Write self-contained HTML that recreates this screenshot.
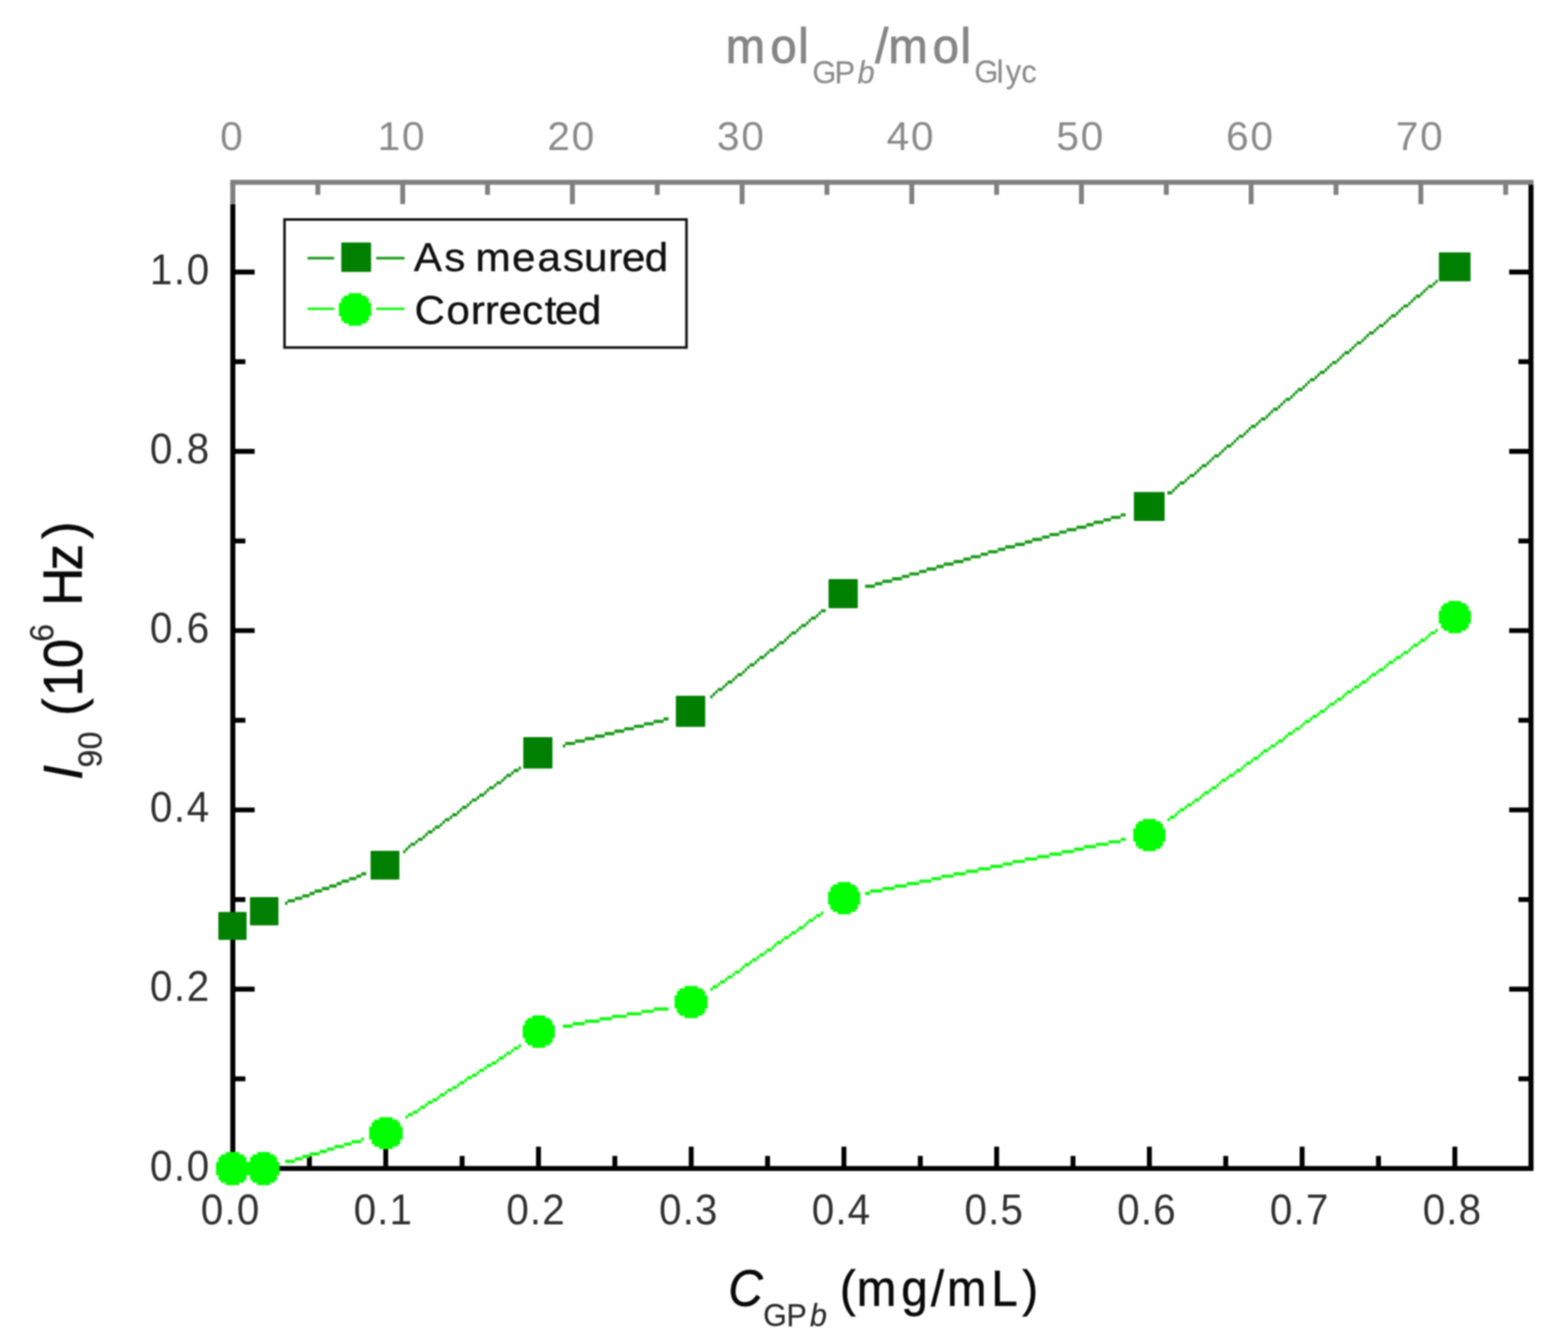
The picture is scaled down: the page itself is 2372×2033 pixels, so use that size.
<!DOCTYPE html>
<html lang="en">
<head>
<meta charset="utf-8">
<title>I90 versus GPb concentration</title>
<style>
html,body{margin:0;padding:0;background:#ffffff;}
body{width:2372px;height:2033px;overflow:hidden;}
svg{display:block;font-family:"Liberation Sans", sans-serif;}
</style>
</head>
<body>
<svg role="img" aria-label="Scattering intensity versus GPb concentration" width="2372" height="2033" viewBox="0 0 2372 2033">
<rect x="0" y="0" width="2372" height="2033" fill="#ffffff"/>
<defs><filter id="soft" x="-5%" y="-5%" width="110%" height="110%" color-interpolation-filters="sRGB"><feGaussianBlur stdDeviation="1.1"/></filter><filter id="crisp" x="-5%" y="-5%" width="110%" height="110%" color-interpolation-filters="sRGB"><feGaussianBlur stdDeviation="0.8"/></filter></defs>
<g id="chart">
<g id="axes" filter="url(#crisp)">
<line x1="348.4" y1="1767.5" x2="2319.8" y2="1767.5" stroke="#000000" stroke-width="7.6" stroke-linecap="butt"/>
<line x1="352.2" y1="308.7" x2="352.2" y2="1767.5" stroke="#000000" stroke-width="7.6" stroke-linecap="butt"/>
<line x1="2316" y1="279" x2="2316" y2="1767.5" stroke="#000000" stroke-width="7.6" stroke-linecap="butt"/>
<line x1="348.4" y1="275.7" x2="2319.8" y2="275.7" stroke="#808080" stroke-width="7.6" stroke-linecap="butt"/>
<line x1="352.2" y1="275.7" x2="352.2" y2="308.7" stroke="#808080" stroke-width="7.6" stroke-linecap="butt"/>
<line x1="468.02" y1="1767.5" x2="468.02" y2="1748.5" stroke="#000000" stroke-width="7.4" stroke-linecap="butt"/>
<line x1="583.54" y1="1767.5" x2="583.54" y2="1734.5" stroke="#000000" stroke-width="7.4" stroke-linecap="butt"/>
<line x1="699.06" y1="1767.5" x2="699.06" y2="1748.5" stroke="#000000" stroke-width="7.4" stroke-linecap="butt"/>
<line x1="814.58" y1="1767.5" x2="814.58" y2="1734.5" stroke="#000000" stroke-width="7.4" stroke-linecap="butt"/>
<line x1="930.1" y1="1767.5" x2="930.1" y2="1748.5" stroke="#000000" stroke-width="7.4" stroke-linecap="butt"/>
<line x1="1045.62" y1="1767.5" x2="1045.62" y2="1734.5" stroke="#000000" stroke-width="7.4" stroke-linecap="butt"/>
<line x1="1161.14" y1="1767.5" x2="1161.14" y2="1748.5" stroke="#000000" stroke-width="7.4" stroke-linecap="butt"/>
<line x1="1276.66" y1="1767.5" x2="1276.66" y2="1734.5" stroke="#000000" stroke-width="7.4" stroke-linecap="butt"/>
<line x1="1392.18" y1="1767.5" x2="1392.18" y2="1748.5" stroke="#000000" stroke-width="7.4" stroke-linecap="butt"/>
<line x1="1507.7" y1="1767.5" x2="1507.7" y2="1734.5" stroke="#000000" stroke-width="7.4" stroke-linecap="butt"/>
<line x1="1623.22" y1="1767.5" x2="1623.22" y2="1748.5" stroke="#000000" stroke-width="7.4" stroke-linecap="butt"/>
<line x1="1738.74" y1="1767.5" x2="1738.74" y2="1734.5" stroke="#000000" stroke-width="7.4" stroke-linecap="butt"/>
<line x1="1854.26" y1="1767.5" x2="1854.26" y2="1748.5" stroke="#000000" stroke-width="7.4" stroke-linecap="butt"/>
<line x1="1969.78" y1="1767.5" x2="1969.78" y2="1734.5" stroke="#000000" stroke-width="7.4" stroke-linecap="butt"/>
<line x1="2085.3" y1="1767.5" x2="2085.3" y2="1748.5" stroke="#000000" stroke-width="7.4" stroke-linecap="butt"/>
<line x1="2200.82" y1="1767.5" x2="2200.82" y2="1734.5" stroke="#000000" stroke-width="7.4" stroke-linecap="butt"/>
<line x1="480.85" y1="275.7" x2="480.85" y2="294.7" stroke="#808080" stroke-width="7.4" stroke-linecap="butt"/>
<line x1="609.2" y1="275.7" x2="609.2" y2="308.7" stroke="#808080" stroke-width="7.4" stroke-linecap="butt"/>
<line x1="737.55" y1="275.7" x2="737.55" y2="294.7" stroke="#808080" stroke-width="7.4" stroke-linecap="butt"/>
<line x1="865.9" y1="275.7" x2="865.9" y2="308.7" stroke="#808080" stroke-width="7.4" stroke-linecap="butt"/>
<line x1="994.25" y1="275.7" x2="994.25" y2="294.7" stroke="#808080" stroke-width="7.4" stroke-linecap="butt"/>
<line x1="1122.6" y1="275.7" x2="1122.6" y2="308.7" stroke="#808080" stroke-width="7.4" stroke-linecap="butt"/>
<line x1="1250.95" y1="275.7" x2="1250.95" y2="294.7" stroke="#808080" stroke-width="7.4" stroke-linecap="butt"/>
<line x1="1379.3" y1="275.7" x2="1379.3" y2="308.7" stroke="#808080" stroke-width="7.4" stroke-linecap="butt"/>
<line x1="1507.65" y1="275.7" x2="1507.65" y2="294.7" stroke="#808080" stroke-width="7.4" stroke-linecap="butt"/>
<line x1="1636" y1="275.7" x2="1636" y2="308.7" stroke="#808080" stroke-width="7.4" stroke-linecap="butt"/>
<line x1="1764.35" y1="275.7" x2="1764.35" y2="294.7" stroke="#808080" stroke-width="7.4" stroke-linecap="butt"/>
<line x1="1892.7" y1="275.7" x2="1892.7" y2="308.7" stroke="#808080" stroke-width="7.4" stroke-linecap="butt"/>
<line x1="2021.05" y1="275.7" x2="2021.05" y2="294.7" stroke="#808080" stroke-width="7.4" stroke-linecap="butt"/>
<line x1="2149.4" y1="275.7" x2="2149.4" y2="308.7" stroke="#808080" stroke-width="7.4" stroke-linecap="butt"/>
<line x1="2277.75" y1="275.7" x2="2277.75" y2="294.7" stroke="#808080" stroke-width="7.4" stroke-linecap="butt"/>
<line x1="352.2" y1="1631.9" x2="371.2" y2="1631.9" stroke="#000000" stroke-width="7.4" stroke-linecap="butt"/>
<line x1="2316" y1="1631.9" x2="2297" y2="1631.9" stroke="#000000" stroke-width="7.4" stroke-linecap="butt"/>
<line x1="352.2" y1="1496.3" x2="385.2" y2="1496.3" stroke="#000000" stroke-width="7.4" stroke-linecap="butt"/>
<line x1="2316" y1="1496.3" x2="2283" y2="1496.3" stroke="#000000" stroke-width="7.4" stroke-linecap="butt"/>
<line x1="352.2" y1="1360.7" x2="371.2" y2="1360.7" stroke="#000000" stroke-width="7.4" stroke-linecap="butt"/>
<line x1="2316" y1="1360.7" x2="2297" y2="1360.7" stroke="#000000" stroke-width="7.4" stroke-linecap="butt"/>
<line x1="352.2" y1="1225.1" x2="385.2" y2="1225.1" stroke="#000000" stroke-width="7.4" stroke-linecap="butt"/>
<line x1="2316" y1="1225.1" x2="2283" y2="1225.1" stroke="#000000" stroke-width="7.4" stroke-linecap="butt"/>
<line x1="352.2" y1="1089.5" x2="371.2" y2="1089.5" stroke="#000000" stroke-width="7.4" stroke-linecap="butt"/>
<line x1="2316" y1="1089.5" x2="2297" y2="1089.5" stroke="#000000" stroke-width="7.4" stroke-linecap="butt"/>
<line x1="352.2" y1="953.9" x2="385.2" y2="953.9" stroke="#000000" stroke-width="7.4" stroke-linecap="butt"/>
<line x1="2316" y1="953.9" x2="2283" y2="953.9" stroke="#000000" stroke-width="7.4" stroke-linecap="butt"/>
<line x1="352.2" y1="818.3" x2="371.2" y2="818.3" stroke="#000000" stroke-width="7.4" stroke-linecap="butt"/>
<line x1="2316" y1="818.3" x2="2297" y2="818.3" stroke="#000000" stroke-width="7.4" stroke-linecap="butt"/>
<line x1="352.2" y1="682.7" x2="385.2" y2="682.7" stroke="#000000" stroke-width="7.4" stroke-linecap="butt"/>
<line x1="2316" y1="682.7" x2="2283" y2="682.7" stroke="#000000" stroke-width="7.4" stroke-linecap="butt"/>
<line x1="352.2" y1="547.1" x2="371.2" y2="547.1" stroke="#000000" stroke-width="7.4" stroke-linecap="butt"/>
<line x1="2316" y1="547.1" x2="2297" y2="547.1" stroke="#000000" stroke-width="7.4" stroke-linecap="butt"/>
<line x1="352.2" y1="411.5" x2="385.2" y2="411.5" stroke="#000000" stroke-width="7.4" stroke-linecap="butt"/>
<line x1="2316" y1="411.5" x2="2283" y2="411.5" stroke="#000000" stroke-width="7.4" stroke-linecap="butt"/>
</g>
<g id="ticklabels" filter="url(#soft)">
<text transform="translate(351.3 227.3)" font-size="61.5" fill="#8a8a8a" letter-spacing="2.6" text-anchor="middle">0</text>
<text transform="translate(608 227.3)" font-size="61.5" fill="#8a8a8a" letter-spacing="2.6" text-anchor="middle">10</text>
<text transform="translate(864.7 227.3)" font-size="61.5" fill="#8a8a8a" letter-spacing="2.6" text-anchor="middle">20</text>
<text transform="translate(1121.4 227.3)" font-size="61.5" fill="#8a8a8a" letter-spacing="2.6" text-anchor="middle">30</text>
<text transform="translate(1378.1 227.3)" font-size="61.5" fill="#8a8a8a" letter-spacing="2.6" text-anchor="middle">40</text>
<text transform="translate(1634.8 227.3)" font-size="61.5" fill="#8a8a8a" letter-spacing="2.6" text-anchor="middle">50</text>
<text transform="translate(1891.5 227.3)" font-size="61.5" fill="#8a8a8a" letter-spacing="2.6" text-anchor="middle">60</text>
<text transform="translate(2148.2 227.3)" font-size="61.5" fill="#8a8a8a" letter-spacing="2.6" text-anchor="middle">70</text>
<text transform="translate(348.85 1851.5) scale(0.94 1)" font-size="65" fill="#303030" letter-spacing="1.8" text-anchor="middle">0.0</text>
<text transform="translate(579.89 1851.5) scale(0.94 1)" font-size="65" fill="#303030" letter-spacing="1.8" text-anchor="middle">0.1</text>
<text transform="translate(810.93 1851.5) scale(0.94 1)" font-size="65" fill="#303030" letter-spacing="1.8" text-anchor="middle">0.2</text>
<text transform="translate(1041.97 1851.5) scale(0.94 1)" font-size="65" fill="#303030" letter-spacing="1.8" text-anchor="middle">0.3</text>
<text transform="translate(1273.01 1851.5) scale(0.94 1)" font-size="65" fill="#303030" letter-spacing="1.8" text-anchor="middle">0.4</text>
<text transform="translate(1504.05 1851.5) scale(0.94 1)" font-size="65" fill="#303030" letter-spacing="1.8" text-anchor="middle">0.5</text>
<text transform="translate(1735.09 1851.5) scale(0.94 1)" font-size="65" fill="#303030" letter-spacing="1.8" text-anchor="middle">0.6</text>
<text transform="translate(1966.13 1851.5) scale(0.94 1)" font-size="65" fill="#303030" letter-spacing="1.8" text-anchor="middle">0.7</text>
<text transform="translate(2197.17 1851.5) scale(0.94 1)" font-size="65" fill="#303030" letter-spacing="1.8" text-anchor="middle">0.8</text>
<text transform="translate(318.94 1785.5) scale(0.94 1)" font-size="65" fill="#303030" letter-spacing="2.6" text-anchor="end">0.0</text>
<text transform="translate(318.94 1514.3) scale(0.94 1)" font-size="65" fill="#303030" letter-spacing="2.6" text-anchor="end">0.2</text>
<text transform="translate(318.94 1243.1) scale(0.94 1)" font-size="65" fill="#303030" letter-spacing="2.6" text-anchor="end">0.4</text>
<text transform="translate(318.94 971.9) scale(0.94 1)" font-size="65" fill="#303030" letter-spacing="2.6" text-anchor="end">0.6</text>
<text transform="translate(318.94 700.7) scale(0.94 1)" font-size="65" fill="#303030" letter-spacing="2.6" text-anchor="end">0.8</text>
<text transform="translate(318.94 429.5) scale(0.94 1)" font-size="65" fill="#303030" letter-spacing="2.6" text-anchor="end">1.0</text>
</g>
<g id="series-as-measured" filter="url(#crisp)">
<path d="M431.27 1363.87h3.72v4.9h-3.72zM434.99 1360.15h11.15v4.9h-11.15zM446.14 1356.43h11.15v4.9h-11.15zM457.3 1352.71h11.15v4.9h-11.15zM468.45 1349h7.44v4.9h-7.44zM475.89 1345.28h11.15v4.9h-11.15zM487.04 1341.56h11.15v4.9h-11.15zM498.19 1337.84h11.15v4.9h-11.15zM509.35 1334.12h7.44v4.9h-7.44zM516.78 1330.41h11.15v4.9h-11.15zM527.94 1326.69h11.15v4.9h-11.15zM539.09 1322.97h7.44v4.9h-7.44zM546.53 1319.25h7.44v4.9h-7.44zM609.73 1285.79h3.72v4.9h-3.72zM613.45 1282.07h3.72v4.9h-3.72zM617.17 1278.36h3.72v4.9h-3.72zM620.88 1274.64h7.44v4.9h-7.44zM628.32 1270.92h3.72v4.9h-3.72zM632.04 1267.2h7.44v4.9h-7.44zM639.47 1263.48h3.72v4.9h-3.72zM643.19 1259.77h3.72v4.9h-3.72zM646.91 1256.05h7.44v4.9h-7.44zM654.34 1252.33h3.72v4.9h-3.72zM658.06 1248.61h7.44v4.9h-7.44zM665.5 1244.89h3.72v4.9h-3.72zM669.22 1241.18h3.72v4.9h-3.72zM672.93 1237.46h7.44v4.9h-7.44zM680.37 1233.74h3.72v4.9h-3.72zM684.09 1230.02h7.44v4.9h-7.44zM691.52 1226.31h3.72v4.9h-3.72zM695.24 1222.59h3.72v4.9h-3.72zM698.96 1218.87h7.44v4.9h-7.44zM706.39 1215.15h3.72v4.9h-3.72zM710.11 1211.43h3.72v4.9h-3.72zM713.83 1207.72h7.44v4.9h-7.44zM721.27 1204h3.72v4.9h-3.72zM724.98 1200.28h7.44v4.9h-7.44zM732.42 1196.56h3.72v4.9h-3.72zM736.14 1192.84h3.72v4.9h-3.72zM739.86 1189.13h7.44v4.9h-7.44zM747.29 1185.41h3.72v4.9h-3.72zM751.01 1181.69h7.44v4.9h-7.44zM758.45 1177.97h3.72v4.9h-3.72zM762.16 1174.26h3.72v4.9h-3.72zM765.88 1170.54h7.44v4.9h-7.44zM773.32 1166.82h3.72v4.9h-3.72zM777.03 1163.1h7.44v4.9h-7.44zM784.47 1159.38h3.72v4.9h-3.72zM851.39 1125.92h3.72v4.9h-3.72zM855.11 1122.21h14.87v4.9h-14.87zM869.98 1118.49h14.87v4.9h-14.87zM884.85 1114.77h14.87v4.9h-14.87zM899.72 1111.05h14.87v4.9h-14.87zM914.6 1107.33h14.87v4.9h-14.87zM929.47 1103.62h14.87v4.9h-14.87zM944.34 1099.9h14.87v4.9h-14.87zM959.21 1096.18h14.87v4.9h-14.87zM974.08 1092.46h14.87v4.9h-14.87zM988.95 1088.74h14.87v4.9h-14.87zM1003.82 1085.03h7.44v4.9h-7.44zM1074.46 1051.57h3.72v4.9h-3.72zM1078.18 1047.85h3.72v4.9h-3.72zM1081.9 1044.13h3.72v4.9h-3.72zM1085.62 1040.41h7.44v4.9h-7.44zM1093.05 1036.69h3.72v4.9h-3.72zM1096.77 1032.98h3.72v4.9h-3.72zM1100.49 1029.26h7.44v4.9h-7.44zM1107.92 1025.54h3.72v4.9h-3.72zM1111.64 1021.82h3.72v4.9h-3.72zM1115.36 1018.1h7.44v4.9h-7.44zM1122.8 1014.39h3.72v4.9h-3.72zM1126.51 1010.67h3.72v4.9h-3.72zM1130.23 1006.95h3.72v4.9h-3.72zM1133.95 1003.23h7.44v4.9h-7.44zM1141.39 999.52h3.72v4.9h-3.72zM1145.1 995.8h3.72v4.9h-3.72zM1148.82 992.08h7.44v4.9h-7.44zM1156.26 988.36h3.72v4.9h-3.72zM1159.97 984.64h3.72v4.9h-3.72zM1163.69 980.93h7.44v4.9h-7.44zM1171.13 977.21h3.72v4.9h-3.72zM1174.85 973.49h3.72v4.9h-3.72zM1178.56 969.77h7.44v4.9h-7.44zM1186 966.05h3.72v4.9h-3.72zM1189.72 962.34h3.72v4.9h-3.72zM1193.44 958.62h3.72v4.9h-3.72zM1197.15 954.9h7.44v4.9h-7.44zM1204.59 951.18h3.72v4.9h-3.72zM1208.31 947.47h3.72v4.9h-3.72zM1212.03 943.75h7.44v4.9h-7.44zM1219.46 940.03h3.72v4.9h-3.72zM1223.18 936.31h3.72v4.9h-3.72zM1226.9 932.59h7.44v4.9h-7.44zM1234.33 928.88h3.72v4.9h-3.72zM1238.05 925.16h3.72v4.9h-3.72zM1241.77 921.44h7.44v4.9h-7.44zM1308.69 884.26h14.87v4.9h-14.87zM1323.56 880.54h11.15v4.9h-11.15zM1334.71 876.83h14.87v4.9h-14.87zM1349.59 873.11h14.87v4.9h-14.87zM1364.46 869.39h11.15v4.9h-11.15zM1375.61 865.67h14.87v4.9h-14.87zM1390.48 861.95h11.15v4.9h-11.15zM1401.64 858.24h14.87v4.9h-14.87zM1416.51 854.52h11.15v4.9h-11.15zM1427.66 850.8h14.87v4.9h-14.87zM1442.53 847.08h14.87v4.9h-14.87zM1457.4 843.37h11.15v4.9h-11.15zM1468.56 839.65h14.87v4.9h-14.87zM1483.43 835.93h11.15v4.9h-11.15zM1494.58 832.21h14.87v4.9h-14.87zM1509.45 828.49h11.15v4.9h-11.15zM1520.61 824.78h14.87v4.9h-14.87zM1535.48 821.06h14.87v4.9h-14.87zM1550.35 817.34h11.15v4.9h-11.15zM1561.5 813.62h14.87v4.9h-14.87zM1576.38 809.9h11.15v4.9h-11.15zM1587.53 806.19h14.87v4.9h-14.87zM1602.4 802.47h11.15v4.9h-11.15zM1613.55 798.75h14.87v4.9h-14.87zM1628.43 795.03h14.87v4.9h-14.87zM1643.3 791.31h11.15v4.9h-11.15zM1654.45 787.6h14.87v4.9h-14.87zM1669.32 783.88h11.15v4.9h-11.15zM1680.48 780.16h14.87v4.9h-14.87zM1695.35 776.44h7.44v4.9h-7.44zM1765.99 742.98h7.44v4.9h-7.44zM1773.42 739.26h3.72v4.9h-3.72zM1777.14 735.55h3.72v4.9h-3.72zM1780.86 731.83h3.72v4.9h-3.72zM1784.58 728.11h7.44v4.9h-7.44zM1792.01 724.39h3.72v4.9h-3.72zM1795.73 720.68h3.72v4.9h-3.72zM1799.45 716.96h7.44v4.9h-7.44zM1806.88 713.24h3.72v4.9h-3.72zM1810.6 709.52h3.72v4.9h-3.72zM1814.32 705.8h3.72v4.9h-3.72zM1818.04 702.09h7.44v4.9h-7.44zM1825.47 698.37h3.72v4.9h-3.72zM1829.19 694.65h3.72v4.9h-3.72zM1832.91 690.93h3.72v4.9h-3.72zM1836.63 687.21h7.44v4.9h-7.44zM1844.06 683.5h3.72v4.9h-3.72zM1847.78 679.78h3.72v4.9h-3.72zM1851.5 676.06h3.72v4.9h-3.72zM1855.22 672.34h7.44v4.9h-7.44zM1862.65 668.63h3.72v4.9h-3.72zM1866.37 664.91h3.72v4.9h-3.72zM1870.09 661.19h3.72v4.9h-3.72zM1873.81 657.47h7.44v4.9h-7.44zM1881.24 653.75h3.72v4.9h-3.72zM1884.96 650.04h3.72v4.9h-3.72zM1888.68 646.32h3.72v4.9h-3.72zM1892.39 642.6h7.44v4.9h-7.44zM1899.83 638.88h3.72v4.9h-3.72zM1903.55 635.16h3.72v4.9h-3.72zM1907.27 631.45h7.44v4.9h-7.44zM1914.7 627.73h3.72v4.9h-3.72zM1918.42 624.01h3.72v4.9h-3.72zM1922.14 620.29h3.72v4.9h-3.72zM1925.86 616.58h7.44v4.9h-7.44zM1933.29 612.86h3.72v4.9h-3.72zM1937.01 609.14h3.72v4.9h-3.72zM1940.73 605.42h3.72v4.9h-3.72zM1944.45 601.7h7.44v4.9h-7.44zM1951.88 597.99h3.72v4.9h-3.72zM1955.6 594.27h3.72v4.9h-3.72zM1959.32 590.55h3.72v4.9h-3.72zM1963.03 586.83h7.44v4.9h-7.44zM1970.47 583.11h3.72v4.9h-3.72zM1974.19 579.4h3.72v4.9h-3.72zM1977.91 575.68h3.72v4.9h-3.72zM1981.62 571.96h7.44v4.9h-7.44zM1989.06 568.24h3.72v4.9h-3.72zM1992.78 564.52h3.72v4.9h-3.72zM1996.5 560.81h7.44v4.9h-7.44zM2003.93 557.09h3.72v4.9h-3.72zM2007.65 553.37h3.72v4.9h-3.72zM2011.37 549.65h3.72v4.9h-3.72zM2015.08 545.94h7.44v4.9h-7.44zM2022.52 542.22h3.72v4.9h-3.72zM2026.24 538.5h3.72v4.9h-3.72zM2029.96 534.78h3.72v4.9h-3.72zM2033.67 531.06h7.44v4.9h-7.44zM2041.11 527.35h3.72v4.9h-3.72zM2044.83 523.63h3.72v4.9h-3.72zM2048.55 519.91h3.72v4.9h-3.72zM2052.26 516.19h7.44v4.9h-7.44zM2059.7 512.47h3.72v4.9h-3.72zM2063.42 508.76h3.72v4.9h-3.72zM2067.13 505.04h3.72v4.9h-3.72zM2070.85 501.32h7.44v4.9h-7.44zM2078.29 497.6h3.72v4.9h-3.72zM2082.01 493.89h3.72v4.9h-3.72zM2085.72 490.17h7.44v4.9h-7.44zM2093.16 486.45h3.72v4.9h-3.72zM2096.88 482.73h3.72v4.9h-3.72zM2100.6 479.01h3.72v4.9h-3.72zM2104.31 475.3h7.44v4.9h-7.44zM2111.75 471.58h3.72v4.9h-3.72zM2115.47 467.86h3.72v4.9h-3.72zM2119.18 464.14h3.72v4.9h-3.72zM2122.9 460.42h7.44v4.9h-7.44zM2130.34 456.71h3.72v4.9h-3.72zM2134.06 452.99h3.72v4.9h-3.72zM2137.77 449.27h3.72v4.9h-3.72zM2141.49 445.55h7.44v4.9h-7.44zM2148.93 441.84h3.72v4.9h-3.72zM2152.65 438.12h3.72v4.9h-3.72zM2156.36 434.4h3.72v4.9h-3.72zM2160.08 430.68h7.44v4.9h-7.44zM2167.52 426.96h3.72v4.9h-3.72zM2171.24 423.25h3.72v4.9h-3.72z" fill="#1f9c1f"/>
<rect x="330.3" y="1379.4" width="42.7" height="42.4" rx="1" fill="#008000"/>
<rect x="378.2" y="1357" width="43" height="42.8" rx="1" fill="#008000"/>
<rect x="560.6" y="1287.1" width="43.6" height="43.5" rx="1" fill="#008000"/>
<rect x="791.6" y="1114.9" width="44.1" height="47.5" rx="1" fill="#008000"/>
<rect x="1022.4" y="1052.4" width="44.4" height="47.2" rx="1" fill="#008000"/>
<rect x="1253.4" y="876.1" width="44.2" height="43.8" rx="1" fill="#008000"/>
<rect x="1715.3" y="744.3" width="46.5" height="43.8" rx="1" fill="#008000"/>
<rect x="2176.7" y="381.8" width="47.9" height="43.8" rx="1" fill="#008000"/>
</g>
<g id="series-corrected" filter="url(#crisp)">
<path d="M431.27 1754.24h14.87v4.9h-14.87zM446.14 1750.52h11.15v4.9h-11.15zM457.3 1746.81h11.15v4.9h-11.15zM468.45 1743.09h14.87v4.9h-14.87zM483.32 1739.37h11.15v4.9h-11.15zM494.48 1735.65h11.15v4.9h-11.15zM505.63 1731.94h14.87v4.9h-14.87zM520.5 1728.22h11.15v4.9h-11.15zM531.66 1724.5h14.87v4.9h-14.87zM546.53 1720.78h3.72v4.9h-3.72zM613.45 1687.32h3.72v4.9h-3.72zM617.17 1683.6h7.44v4.9h-7.44zM624.6 1679.89h7.44v4.9h-7.44zM632.04 1676.17h3.72v4.9h-3.72zM635.76 1672.45h7.44v4.9h-7.44zM643.19 1668.73h3.72v4.9h-3.72zM646.91 1665.01h7.44v4.9h-7.44zM654.34 1661.3h7.44v4.9h-7.44zM661.78 1657.58h3.72v4.9h-3.72zM665.5 1653.86h7.44v4.9h-7.44zM672.93 1650.14h3.72v4.9h-3.72zM676.65 1646.42h7.44v4.9h-7.44zM684.09 1642.71h7.44v4.9h-7.44zM691.52 1638.99h3.72v4.9h-3.72zM695.24 1635.27h7.44v4.9h-7.44zM702.68 1631.55h3.72v4.9h-3.72zM706.39 1627.84h7.44v4.9h-7.44zM713.83 1624.12h7.44v4.9h-7.44zM721.27 1620.4h3.72v4.9h-3.72zM724.98 1616.68h7.44v4.9h-7.44zM732.42 1612.96h3.72v4.9h-3.72zM736.14 1609.25h7.44v4.9h-7.44zM743.57 1605.53h7.44v4.9h-7.44zM751.01 1601.81h3.72v4.9h-3.72zM754.73 1598.09h7.44v4.9h-7.44zM762.16 1594.37h3.72v4.9h-3.72zM765.88 1590.66h7.44v4.9h-7.44zM773.32 1586.94h3.72v4.9h-3.72zM777.03 1583.22h7.44v4.9h-7.44zM784.47 1579.5h3.72v4.9h-3.72zM851.39 1549.76h14.87v4.9h-14.87zM866.26 1546.04h18.59v4.9h-18.59zM884.85 1542.32h22.31v4.9h-22.31zM907.16 1538.61h18.59v4.9h-18.59zM925.75 1534.89h22.31v4.9h-22.31zM948.06 1531.17h22.31v4.9h-22.31zM970.36 1527.45h18.59v4.9h-18.59zM988.95 1523.73h22.31v4.9h-22.31zM1074.46 1493.99h3.72v4.9h-3.72zM1078.18 1490.27h7.44v4.9h-7.44zM1085.62 1486.56h3.72v4.9h-3.72zM1089.34 1482.84h7.44v4.9h-7.44zM1096.77 1479.12h3.72v4.9h-3.72zM1100.49 1475.4h7.44v4.9h-7.44zM1107.92 1471.68h3.72v4.9h-3.72zM1111.64 1467.97h7.44v4.9h-7.44zM1119.08 1464.25h3.72v4.9h-3.72zM1122.8 1460.53h3.72v4.9h-3.72zM1126.51 1456.81h7.44v4.9h-7.44zM1133.95 1453.1h3.72v4.9h-3.72zM1137.67 1449.38h7.44v4.9h-7.44zM1145.1 1445.66h3.72v4.9h-3.72zM1148.82 1441.94h7.44v4.9h-7.44zM1156.26 1438.22h3.72v4.9h-3.72zM1159.97 1434.51h7.44v4.9h-7.44zM1167.41 1430.79h3.72v4.9h-3.72zM1171.13 1427.07h3.72v4.9h-3.72zM1174.85 1423.35h7.44v4.9h-7.44zM1182.28 1419.63h3.72v4.9h-3.72zM1186 1415.92h7.44v4.9h-7.44zM1193.44 1412.2h3.72v4.9h-3.72zM1197.15 1408.48h7.44v4.9h-7.44zM1204.59 1404.76h3.72v4.9h-3.72zM1208.31 1401.05h7.44v4.9h-7.44zM1215.74 1397.33h3.72v4.9h-3.72zM1219.46 1393.61h3.72v4.9h-3.72zM1223.18 1389.89h7.44v4.9h-7.44zM1230.61 1386.17h3.72v4.9h-3.72zM1234.33 1382.46h7.44v4.9h-7.44zM1241.77 1378.74h3.72v4.9h-3.72zM1308.69 1349h7.44v4.9h-7.44zM1316.13 1345.28h18.59v4.9h-18.59zM1334.71 1341.56h18.59v4.9h-18.59zM1353.3 1337.84h18.59v4.9h-18.59zM1371.89 1334.12h18.59v4.9h-18.59zM1390.48 1330.41h18.59v4.9h-18.59zM1409.07 1326.69h14.87v4.9h-14.87zM1423.94 1322.97h18.59v4.9h-18.59zM1442.53 1319.25h18.59v4.9h-18.59zM1461.12 1315.53h18.59v4.9h-18.59zM1479.71 1311.82h18.59v4.9h-18.59zM1498.3 1308.1h18.59v4.9h-18.59zM1516.89 1304.38h14.87v4.9h-14.87zM1531.76 1300.66h18.59v4.9h-18.59zM1550.35 1296.94h18.59v4.9h-18.59zM1568.94 1293.23h18.59v4.9h-18.59zM1587.53 1289.51h18.59v4.9h-18.59zM1606.12 1285.79h18.59v4.9h-18.59zM1624.71 1282.07h14.87v4.9h-14.87zM1639.58 1278.36h18.59v4.9h-18.59zM1658.17 1274.64h18.59v4.9h-18.59zM1676.76 1270.92h18.59v4.9h-18.59zM1695.35 1267.2h7.44v4.9h-7.44zM1765.99 1237.46h3.72v4.9h-3.72zM1769.71 1233.74h7.44v4.9h-7.44zM1777.14 1230.02h3.72v4.9h-3.72zM1780.86 1226.31h3.72v4.9h-3.72zM1784.58 1222.59h7.44v4.9h-7.44zM1792.01 1218.87h3.72v4.9h-3.72zM1795.73 1215.15h7.44v4.9h-7.44zM1803.17 1211.43h3.72v4.9h-3.72zM1806.88 1207.72h7.44v4.9h-7.44zM1814.32 1204h3.72v4.9h-3.72zM1818.04 1200.28h3.72v4.9h-3.72zM1821.76 1196.56h7.44v4.9h-7.44zM1829.19 1192.84h3.72v4.9h-3.72zM1832.91 1189.13h7.44v4.9h-7.44zM1840.34 1185.41h3.72v4.9h-3.72zM1844.06 1181.69h3.72v4.9h-3.72zM1847.78 1177.97h7.44v4.9h-7.44zM1855.22 1174.26h3.72v4.9h-3.72zM1858.93 1170.54h7.44v4.9h-7.44zM1866.37 1166.82h3.72v4.9h-3.72zM1870.09 1163.1h7.44v4.9h-7.44zM1877.52 1159.38h3.72v4.9h-3.72zM1881.24 1155.67h3.72v4.9h-3.72zM1884.96 1151.95h7.44v4.9h-7.44zM1892.39 1148.23h3.72v4.9h-3.72zM1896.11 1144.51h7.44v4.9h-7.44zM1903.55 1140.79h3.72v4.9h-3.72zM1907.27 1137.08h3.72v4.9h-3.72zM1910.98 1133.36h7.44v4.9h-7.44zM1918.42 1129.64h3.72v4.9h-3.72zM1922.14 1125.92h7.44v4.9h-7.44zM1929.57 1122.21h3.72v4.9h-3.72zM1933.29 1118.49h7.44v4.9h-7.44zM1940.73 1114.77h3.72v4.9h-3.72zM1944.45 1111.05h3.72v4.9h-3.72zM1948.16 1107.33h7.44v4.9h-7.44zM1955.6 1103.62h3.72v4.9h-3.72zM1959.32 1099.9h7.44v4.9h-7.44zM1966.75 1096.18h3.72v4.9h-3.72zM1970.47 1092.46h3.72v4.9h-3.72zM1974.19 1088.74h7.44v4.9h-7.44zM1981.62 1085.03h3.72v4.9h-3.72zM1985.34 1081.31h7.44v4.9h-7.44zM1992.78 1077.59h3.72v4.9h-3.72zM1996.5 1073.87h7.44v4.9h-7.44zM2003.93 1070.16h3.72v4.9h-3.72zM2007.65 1066.44h3.72v4.9h-3.72zM2011.37 1062.72h7.44v4.9h-7.44zM2018.8 1059h3.72v4.9h-3.72zM2022.52 1055.28h7.44v4.9h-7.44zM2029.96 1051.57h3.72v4.9h-3.72zM2033.67 1047.85h3.72v4.9h-3.72zM2037.39 1044.13h7.44v4.9h-7.44zM2044.83 1040.41h3.72v4.9h-3.72zM2048.55 1036.69h7.44v4.9h-7.44zM2055.98 1032.98h3.72v4.9h-3.72zM2059.7 1029.26h7.44v4.9h-7.44zM2067.13 1025.54h3.72v4.9h-3.72zM2070.85 1021.82h3.72v4.9h-3.72zM2074.57 1018.1h7.44v4.9h-7.44zM2082.01 1014.39h3.72v4.9h-3.72zM2085.72 1010.67h7.44v4.9h-7.44zM2093.16 1006.95h3.72v4.9h-3.72zM2096.88 1003.23h3.72v4.9h-3.72zM2100.6 999.52h7.44v4.9h-7.44zM2108.03 995.8h3.72v4.9h-3.72zM2111.75 992.08h7.44v4.9h-7.44zM2119.18 988.36h3.72v4.9h-3.72zM2122.9 984.64h7.44v4.9h-7.44zM2130.34 980.93h3.72v4.9h-3.72zM2134.06 977.21h3.72v4.9h-3.72zM2137.77 973.49h7.44v4.9h-7.44zM2145.21 969.77h3.72v4.9h-3.72zM2148.93 966.05h7.44v4.9h-7.44zM2156.36 962.34h3.72v4.9h-3.72zM2160.08 958.62h3.72v4.9h-3.72zM2163.8 954.9h7.44v4.9h-7.44zM2171.24 951.18h3.72v4.9h-3.72z" fill="#18f818"/>
<polygon points="360.9,1743.4 360.9,1747.14 368.3,1747.14 368.3,1750.88 372,1750.88 372,1754.62 372,1754.62 372,1758.35 375.7,1758.35 375.7,1762.09 375.7,1762.09 375.7,1765.83 375.7,1765.83 375.7,1769.57 375.7,1769.57 375.7,1773.31 375.7,1773.31 375.7,1777.05 372,1777.05 372,1780.78 372,1780.78 372,1784.52 368.3,1784.52 368.3,1788.26 360.9,1788.26 360.9,1792 342.4,1792 342.4,1788.26 335,1788.26 335,1784.52 331.3,1784.52 331.3,1780.78 331.3,1780.78 331.3,1777.05 327.6,1777.05 327.6,1773.31 327.6,1773.31 327.6,1769.57 327.6,1769.57 327.6,1765.83 327.6,1765.83 327.6,1762.09 327.6,1762.09 327.6,1758.35 331.3,1758.35 331.3,1754.62 331.3,1754.62 331.3,1750.88 335,1750.88 335,1747.14 342.4,1747.14 342.4,1743.4" fill="#00ff00" stroke="#00ff00" stroke-width="1.6" stroke-linejoin="round"/>
<polygon points="407.75,1743.4 407.75,1747.14 414.88,1747.14 414.88,1750.88 418.44,1750.88 418.44,1754.62 418.44,1754.62 418.44,1758.35 422,1758.35 422,1762.09 422,1762.09 422,1765.83 422,1765.83 422,1769.57 422,1769.57 422,1773.31 422,1773.31 422,1777.05 418.44,1777.05 418.44,1780.78 418.44,1780.78 418.44,1784.52 414.88,1784.52 414.88,1788.26 407.75,1788.26 407.75,1792 389.95,1792 389.95,1788.26 382.82,1788.26 382.82,1784.52 379.26,1784.52 379.26,1780.78 379.26,1780.78 379.26,1777.05 375.7,1777.05 375.7,1773.31 375.7,1773.31 375.7,1769.57 375.7,1769.57 375.7,1765.83 375.7,1765.83 375.7,1762.09 375.7,1762.09 375.7,1758.35 379.26,1758.35 379.26,1754.62 379.26,1754.62 379.26,1750.88 382.82,1750.88 382.82,1747.14 389.95,1747.14 389.95,1743.4" fill="#00ff00" stroke="#00ff00" stroke-width="1.6" stroke-linejoin="round"/>
<polygon points="593.22,1690.8 593.22,1694.38 600.76,1694.38 600.76,1697.97 604.53,1697.97 604.53,1701.55 604.53,1701.55 604.53,1705.14 608.3,1705.14 608.3,1708.72 608.3,1708.72 608.3,1712.31 608.3,1712.31 608.3,1715.89 608.3,1715.89 608.3,1719.48 608.3,1719.48 608.3,1723.06 604.53,1723.06 604.53,1726.65 604.53,1726.65 604.53,1730.23 600.76,1730.23 600.76,1733.82 593.22,1733.82 593.22,1737.4 574.38,1737.4 574.38,1733.82 566.84,1733.82 566.84,1730.23 563.07,1730.23 563.07,1726.65 563.07,1726.65 563.07,1723.06 559.3,1723.06 559.3,1719.48 559.3,1719.48 559.3,1715.89 559.3,1715.89 559.3,1712.31 559.3,1712.31 559.3,1708.72 559.3,1708.72 559.3,1705.14 563.07,1705.14 563.07,1701.55 563.07,1701.55 563.07,1697.97 566.84,1697.97 566.84,1694.38 574.38,1694.38 574.38,1690.8" fill="#00ff00" stroke="#00ff00" stroke-width="1.6" stroke-linejoin="round"/>
<polygon points="824.04,1536.8 824.04,1540.44 831.27,1540.44 831.27,1544.08 834.88,1544.08 834.88,1547.72 834.88,1547.72 834.88,1551.35 838.5,1551.35 838.5,1554.99 838.5,1554.99 838.5,1558.63 838.5,1558.63 838.5,1562.27 838.5,1562.27 838.5,1565.91 838.5,1565.91 838.5,1569.55 834.88,1569.55 834.88,1573.18 834.88,1573.18 834.88,1576.82 831.27,1576.82 831.27,1580.46 824.04,1580.46 824.04,1584.1 805.96,1584.1 805.96,1580.46 798.73,1580.46 798.73,1576.82 795.12,1576.82 795.12,1573.18 795.12,1573.18 795.12,1569.55 791.5,1569.55 791.5,1565.91 791.5,1565.91 791.5,1562.27 791.5,1562.27 791.5,1558.63 791.5,1558.63 791.5,1554.99 791.5,1554.99 791.5,1551.35 795.12,1551.35 795.12,1547.72 795.12,1547.72 795.12,1544.08 798.73,1544.08 798.73,1540.44 805.96,1540.44 805.96,1536.8" fill="#00ff00" stroke="#00ff00" stroke-width="1.6" stroke-linejoin="round"/>
<polygon points="1054.74,1492.2 1054.74,1495.82 1062.17,1495.82 1062.17,1499.43 1065.88,1499.43 1065.88,1503.05 1065.88,1503.05 1065.88,1506.66 1069.6,1506.66 1069.6,1510.28 1069.6,1510.28 1069.6,1513.89 1069.6,1513.89 1069.6,1517.51 1069.6,1517.51 1069.6,1521.12 1069.6,1521.12 1069.6,1524.74 1065.88,1524.74 1065.88,1528.35 1065.88,1528.35 1065.88,1531.97 1062.17,1531.97 1062.17,1535.58 1054.74,1535.58 1054.74,1539.2 1036.16,1539.2 1036.16,1535.58 1028.73,1535.58 1028.73,1531.97 1025.02,1531.97 1025.02,1528.35 1025.02,1528.35 1025.02,1524.74 1021.3,1524.74 1021.3,1521.12 1021.3,1521.12 1021.3,1517.51 1021.3,1517.51 1021.3,1513.89 1021.3,1513.89 1021.3,1510.28 1021.3,1510.28 1021.3,1506.66 1025.02,1506.66 1025.02,1503.05 1025.02,1503.05 1025.02,1499.43 1028.73,1499.43 1028.73,1495.82 1036.16,1495.82 1036.16,1492.2" fill="#00ff00" stroke="#00ff00" stroke-width="1.6" stroke-linejoin="round"/>
<polygon points="1285.94,1335.1 1285.94,1338.72 1293.17,1338.72 1293.17,1342.33 1296.78,1342.33 1296.78,1345.95 1296.78,1345.95 1296.78,1349.56 1300.4,1349.56 1300.4,1353.18 1300.4,1353.18 1300.4,1356.79 1300.4,1356.79 1300.4,1360.41 1300.4,1360.41 1300.4,1364.02 1300.4,1364.02 1300.4,1367.64 1296.78,1367.64 1296.78,1371.25 1296.78,1371.25 1296.78,1374.87 1293.17,1374.87 1293.17,1378.48 1285.94,1378.48 1285.94,1382.1 1267.86,1382.1 1267.86,1378.48 1260.63,1378.48 1260.63,1374.87 1257.02,1374.87 1257.02,1371.25 1257.02,1371.25 1257.02,1367.64 1253.4,1367.64 1253.4,1364.02 1253.4,1364.02 1253.4,1360.41 1253.4,1360.41 1253.4,1356.79 1253.4,1356.79 1253.4,1353.18 1253.4,1353.18 1253.4,1349.56 1257.02,1349.56 1257.02,1345.95 1257.02,1345.95 1257.02,1342.33 1260.63,1342.33 1260.63,1338.72 1267.86,1338.72 1267.86,1335.1" fill="#00ff00" stroke="#00ff00" stroke-width="1.6" stroke-linejoin="round"/>
<polygon points="1747.74,1239.5 1747.74,1243.14 1754.97,1243.14 1754.97,1246.78 1758.58,1246.78 1758.58,1250.42 1758.58,1250.42 1758.58,1254.05 1762.2,1254.05 1762.2,1257.69 1762.2,1257.69 1762.2,1261.33 1762.2,1261.33 1762.2,1264.97 1762.2,1264.97 1762.2,1268.61 1762.2,1268.61 1762.2,1272.25 1758.58,1272.25 1758.58,1275.88 1758.58,1275.88 1758.58,1279.52 1754.97,1279.52 1754.97,1283.16 1747.74,1283.16 1747.74,1286.8 1729.66,1286.8 1729.66,1283.16 1722.43,1283.16 1722.43,1279.52 1718.82,1279.52 1718.82,1275.88 1718.82,1275.88 1718.82,1272.25 1715.2,1272.25 1715.2,1268.61 1715.2,1268.61 1715.2,1264.97 1715.2,1264.97 1715.2,1261.33 1715.2,1261.33 1715.2,1257.69 1715.2,1257.69 1715.2,1254.05 1718.82,1254.05 1718.82,1250.42 1718.82,1250.42 1718.82,1246.78 1722.43,1246.78 1722.43,1243.14 1729.66,1243.14 1729.66,1239.5" fill="#00ff00" stroke="#00ff00" stroke-width="1.6" stroke-linejoin="round"/>
<polygon points="2209.84,909.7 2209.84,913.33 2217.07,913.33 2217.07,916.96 2220.68,916.96 2220.68,920.59 2220.68,920.59 2220.68,924.22 2224.3,924.22 2224.3,927.85 2224.3,927.85 2224.3,931.48 2224.3,931.48 2224.3,935.12 2224.3,935.12 2224.3,938.75 2224.3,938.75 2224.3,942.38 2220.68,942.38 2220.68,946.01 2220.68,946.01 2220.68,949.64 2217.07,949.64 2217.07,953.27 2209.84,953.27 2209.84,956.9 2191.76,956.9 2191.76,953.27 2184.53,953.27 2184.53,949.64 2180.92,949.64 2180.92,946.01 2180.92,946.01 2180.92,942.38 2177.3,942.38 2177.3,938.75 2177.3,938.75 2177.3,935.12 2177.3,935.12 2177.3,931.48 2177.3,931.48 2177.3,927.85 2177.3,927.85 2177.3,924.22 2180.92,924.22 2180.92,920.59 2180.92,920.59 2180.92,916.96 2184.53,916.96 2184.53,913.33 2191.76,913.33 2191.76,909.7" fill="#00ff00" stroke="#00ff00" stroke-width="1.6" stroke-linejoin="round"/>
</g>
<g id="legend">
<g filter="url(#crisp)">
<rect x="430.4" y="332" width="608.1" height="193.7" fill="#ffffff" stroke="#141414" stroke-width="3.9"/>
<line x1="465.2" y1="390.5" x2="505.4" y2="390.5" stroke="#1f9c1f" stroke-width="3.8" stroke-linecap="butt"/>
<line x1="569" y1="390.5" x2="612" y2="390.5" stroke="#1f9c1f" stroke-width="3.8" stroke-linecap="butt"/>
<rect x="516.3" y="366.8" width="45" height="44.5" fill="#008000"/>
<line x1="465.2" y1="467.2" x2="505.4" y2="467.2" stroke="#18f818" stroke-width="3.8" stroke-linecap="butt"/>
<line x1="569" y1="467.2" x2="612" y2="467.2" stroke="#18f818" stroke-width="3.8" stroke-linecap="butt"/>
<polygon points="546.22,444.4 546.22,448.06 553.51,448.06 553.51,451.72 557.15,451.72 557.15,455.38 557.15,455.38 557.15,459.05 560.8,459.05 560.8,462.71 560.8,462.71 560.8,466.37 560.8,466.37 560.8,470.03 560.8,470.03 560.8,473.69 560.8,473.69 560.8,477.35 557.15,477.35 557.15,481.02 557.15,481.02 557.15,484.68 553.51,484.68 553.51,488.34 546.22,488.34 546.22,492 527.98,492 527.98,488.34 520.69,488.34 520.69,484.68 517.05,484.68 517.05,481.02 517.05,481.02 517.05,477.35 513.4,477.35 513.4,473.69 513.4,473.69 513.4,470.03 513.4,470.03 513.4,466.37 513.4,466.37 513.4,462.71 513.4,462.71 513.4,459.05 517.05,459.05 517.05,455.38 517.05,455.38 517.05,451.72 520.69,451.72 520.69,448.06 527.98,448.06 527.98,444.4" fill="#00ff00" stroke="#00ff00" stroke-width="1.6" stroke-linejoin="round"/>
</g>
<g filter="url(#soft)">
<text transform="translate(0 410) scale(1.04 1)" font-size="61.5" fill="#101010" stroke="#101010" stroke-width="0.5"><tspan x="602 646.17 680 691.59 744.7 781.71 818.67 849.56 884.57 904.6 937.71">As measured</tspan></text>
<text transform="translate(0 490) scale(1.04 1)" font-size="61.5" fill="#101010" stroke="#101010" stroke-width="0.5"><tspan x="602.93 649.24 684.76 705.24 725.27 759.31 792.24 807.1 840.3">Corrected</tspan></text>
</g>
</g>
<g id="title-top" filter="url(#soft)">
<text transform="translate(0 95) scale(0.95 1)"><tspan y="0" font-size="75" fill="#868686" stroke="#868686" stroke-width="1.4"><tspan x="1155.86 1226.85 1271.16">mol</tspan></tspan><tspan y="30.5" font-size="49" fill="#8c8c8c" stroke="#8c8c8c" stroke-width="0.3"><tspan x="1293.64 1329.03">GP</tspan><tspan x="1365.62" font-style="italic">b</tspan></tspan><tspan y="0" font-size="75" fill="#868686" stroke="#868686" stroke-width="1.4"><tspan x="1393.58 1414.81 1485.27 1529.47">/mol</tspan></tspan><tspan y="30" font-size="49" fill="#8c8c8c" stroke="#8c8c8c" stroke-width="0.3"><tspan x="1551.64 1587.01 1601.56 1626.34">Glyc</tspan></tspan></text>
</g>
<g id="title-bottom" filter="url(#soft)">
<text transform="translate(0 1975) scale(0.94 1)"><tspan y="0" font-size="77" fill="#0a0a0a" stroke="#0a0a0a" stroke-width="0.8"><tspan x="1172.13" font-style="italic">C</tspan></tspan><tspan y="31" font-size="49" fill="#2a2a2a" stroke="#2a2a2a" stroke-width="0.3"><tspan x="1228.17 1265.77">GP</tspan><tspan x="1303.46" font-style="italic">b</tspan></tspan><tspan y="0" font-size="76.5" fill="#0a0a0a" stroke="#0a0a0a" stroke-width="0.8"><tspan x="1330.22 1351.64 1378.86 1450.62 1498.09 1523.86 1595.11 1645.3"> (mg/mL)</tspan></tspan></text>
</g>
<g id="title-left" filter="url(#soft)">
<text transform="translate(124.2 1200) rotate(-90) scale(0.97 1)"><tspan y="0" font-size="83" fill="#0a0a0a" stroke="#0a0a0a" stroke-width="0.8"><tspan x="20.94" font-style="italic">I</tspan></tspan><tspan y="29.3" font-size="50" fill="#2a2a2a" stroke="#2a2a2a" stroke-width="0.4"><tspan x="40.23 68.67">90</tspan></tspan><tspan y="0" font-size="83" fill="#0a0a0a" stroke="#0a0a0a" stroke-width="0.8"><tspan x="97.39 120.63 150.79 194.9"> (10</tspan></tspan><tspan y="-43.7" font-size="50" fill="#2a2a2a" stroke="#2a2a2a" stroke-width="0.4"><tspan x="236.22">6</tspan></tspan><tspan y="0" font-size="83" fill="#0a0a0a" stroke="#0a0a0a" stroke-width="0.8"><tspan x="269.02 292.26 347.56 396.42"> Hz)</tspan></tspan></text>
</g>
</g>
</svg>
</body>
</html>
